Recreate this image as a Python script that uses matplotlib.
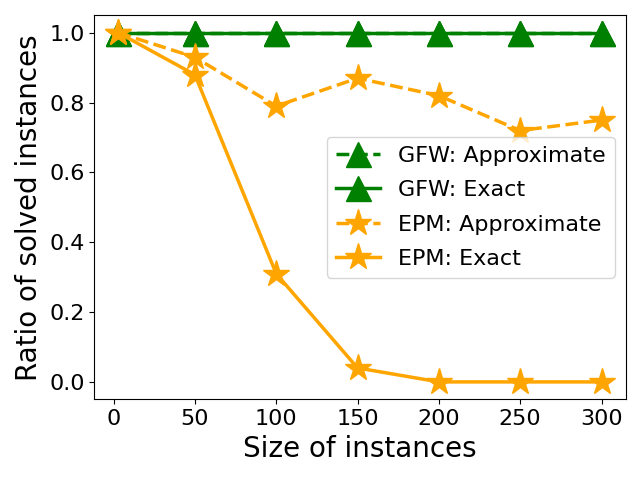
import matplotlib
matplotlib.use("Agg")
import matplotlib.pyplot as plt

sizes = [3, 50, 100, 150, 200, 250, 300]
gfw_approx = [1.0, 1.0, 1.0, 1.0, 1.0, 1.0, 1.0]
gfw_exact = [1.0, 1.0, 1.0, 1.0, 1.0, 1.0, 1.0]
epm_approx = [1.0, 0.93, 0.79, 0.87, 0.82, 0.72, 0.75]
epm_exact = [1.0, 0.88, 0.31, 0.04, 0.0, 0.0, 0.0]

fig, ax = plt.subplots(figsize=(6.4, 4.8), dpi=100)
ax.plot(sizes, gfw_approx, '--', color='green', marker='^', markersize=18, linewidth=2.5, label='GFW: Approximate')
ax.plot(sizes, gfw_exact, '-', color='green', marker='^', markersize=18, linewidth=2.5, label='GFW: Exact')
ax.plot(sizes, epm_approx, '--', color='orange', marker='*', markersize=20, linewidth=2.5, label='EPM: Approximate')
ax.plot(sizes, epm_exact, '-', color='orange', marker='*', markersize=20, linewidth=2.5, label='EPM: Exact')
ax.set_xlabel('Size of instances', fontsize=20)
ax.set_ylabel('Ratio of solved instances', fontsize=20)
ax.tick_params(labelsize=16)
ax.set_xticks([0, 50, 100, 150, 200, 250, 300])
ax.legend(fontsize=16, loc='center right', labelspacing=0.65)
fig.subplots_adjust(left=0.1473, right=0.9776, top=0.968, bottom=0.168)
fig.savefig('out.png')
